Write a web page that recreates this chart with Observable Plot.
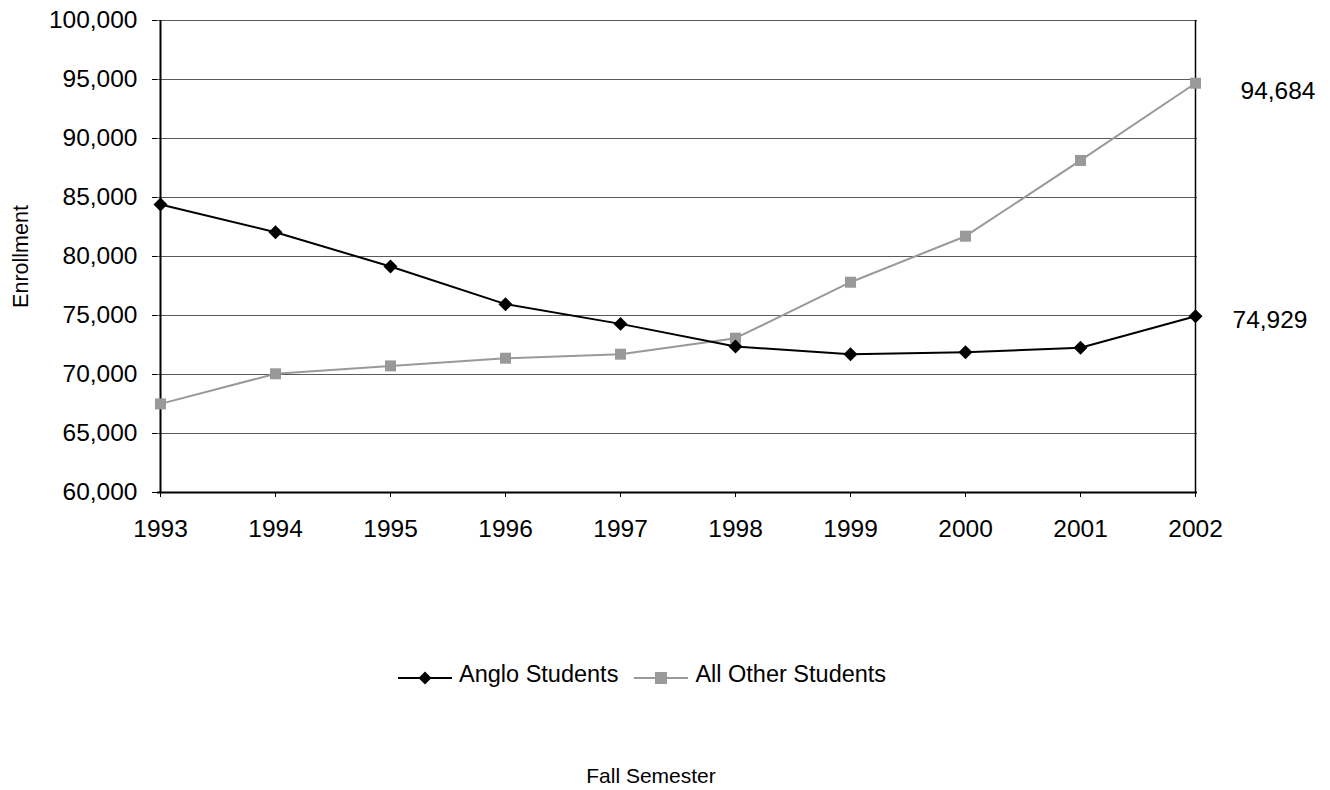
<!DOCTYPE html>
<html>
<head>
<meta charset="utf-8">
<script src="https://cdn.jsdelivr.net/npm/d3@7"></script>
<script src="https://cdn.jsdelivr.net/npm/@observablehq/plot@0.6"></script>
<style>
  html, body { margin: 0; padding: 0; background: #fff; }
  body { width: 1330px; height: 790px; position: relative; font-family: "Liberation Sans", Arial, sans-serif; overflow: hidden; }
  #chart { position: absolute; left: 0; top: 0; }
  #legend { position: absolute; left: 398px; top: 661px; height: 27px; line-height: 27px; display: flex; align-items: center; font-size: 23.5px; color: #000; white-space: nowrap; }
  #legend .item { display: flex; align-items: center; }
  #legend svg { margin-right: 7px; display: block; }
  #caption { position: absolute; left: 451px; width: 400px; top: 765px; line-height: 21px; text-align: center; font-size: 21px; color: #000; }
</style>
</head>
<body>
<div id="chart"></div>
<div id="legend"></div>
<div id="caption">Fall Semester</div>
<script>
const years = [1993, 1994, 1995, 1996, 1997, 1998, 1999, 2000, 2001, 2002];
const anglo = [84400, 82060, 79150, 75960, 74290, 72370, 71720, 71890, 72260, 74929];
const other = [67510, 70060, 70730, 71380, 71720, 73080, 77820, 81720, 88140, 94684];
const seriesNames = ["Anglo Students", "All Other Students"];
const yTicks = [60000, 65000, 70000, 75000, 80000, 85000, 90000, 95000, 100000];
const endLabels = ["94,684", "74,929"];

const angloData = years.map((y, i) => ({year: y, value: anglo[i]}));
const otherData = years.map((y, i) => ({year: y, value: other[i]}));
const lastYear = years[years.length - 1];
const otherEnd = [{year: lastYear, value: other[other.length - 1], text: endLabels[0]}];
const angloEnd = [{year: lastYear, value: anglo[anglo.length - 1], text: endLabels[1]}];

const fmt = d3.format(",");

const chart = Plot.plot({
  width: 1330,
  height: 560,
  marginLeft: 157,
  marginRight: 133,
  marginTop: 20,
  marginBottom: 68,
  style: {fontFamily: "Liberation Sans, Arial, sans-serif", fontSize: "24.5px", color: "#000", background: "#fff"},
  x: {type: "point", domain: years, padding: 0},
  y: {domain: [60000, 100000]},
  marks: [
    Plot.gridY(yTicks, {stroke: "#5a5a5a", strokeOpacity: 1, strokeWidth: 1}),
    Plot.ruleX([lastYear], {stroke: "#000", strokeWidth: 1.5}),
    Plot.axisY({ticks: yTicks, tickFormat: fmt, tickSize: 5, tickPadding: 15, label: null, fontSize: 24.5}),
    Plot.axisY({ticks: [], label: "Enrollment", labelAnchor: "center", labelArrow: "none", labelOffset: 145, fontSize: 21.5, tickSize: 0}),
    Plot.axisX({tickFormat: d => String(d), tickSize: 5, tickPadding: 22, label: null, fontSize: 24.5}),
    Plot.ruleY([60000], {stroke: "#000", strokeWidth: 2}),
    Plot.ruleX([years[0]], {stroke: "#000", strokeWidth: 2}),
    Plot.line(otherData, {x: "year", y: "value", stroke: "#999999", strokeWidth: 2}),
    Plot.dot(otherData, {x: "year", y: "value", symbol: "square", r: 6.2, fill: "#999999", stroke: "none"}),
    Plot.line(angloData, {x: "year", y: "value", stroke: "#000", strokeWidth: 2}),
    Plot.dot(angloData, {x: "year", y: "value", symbol: "diamond2", r: 6.3, fill: "#000", stroke: "none"}),
    Plot.text(otherEnd, {x: "year", y: "value", text: "text", dx: 45, dy: 8, textAnchor: "start", fontSize: 24.5, fill: "#000"}),
    Plot.text(angloEnd, {x: "year", y: "value", text: "text", dx: 37, dy: 4, textAnchor: "start", fontSize: 24.5, fill: "#000"})
  ]
});
document.getElementById("chart").appendChild(chart);

// legend
const legend = document.getElementById("legend");
const legendStyles = [
  {stroke: "#000", symbol: "diamond"},
  {stroke: "#999999", symbol: "square"}
];
seriesNames.forEach((name, i) => {
  const item = document.createElement("div");
  item.className = "item";
  const s = legendStyles[i];
  const shape = s.symbol === "diamond"
    ? `<polygon points="27,10.5 33.5,17 27,23.5 20.5,17" fill="${s.stroke}"/>`
    : `<rect x="21" y="11" width="12" height="12" fill="${s.stroke}"/>`;
  item.innerHTML = `<svg width="54" height="27"><line x1="0" x2="54" y1="17" y2="17" stroke="${s.stroke}" stroke-width="2"/>${shape}</svg><span>${name}</span>`;
  if (i === 0) item.style.marginRight = "16px";
  legend.appendChild(item);
});
</script>
</body>
</html>
